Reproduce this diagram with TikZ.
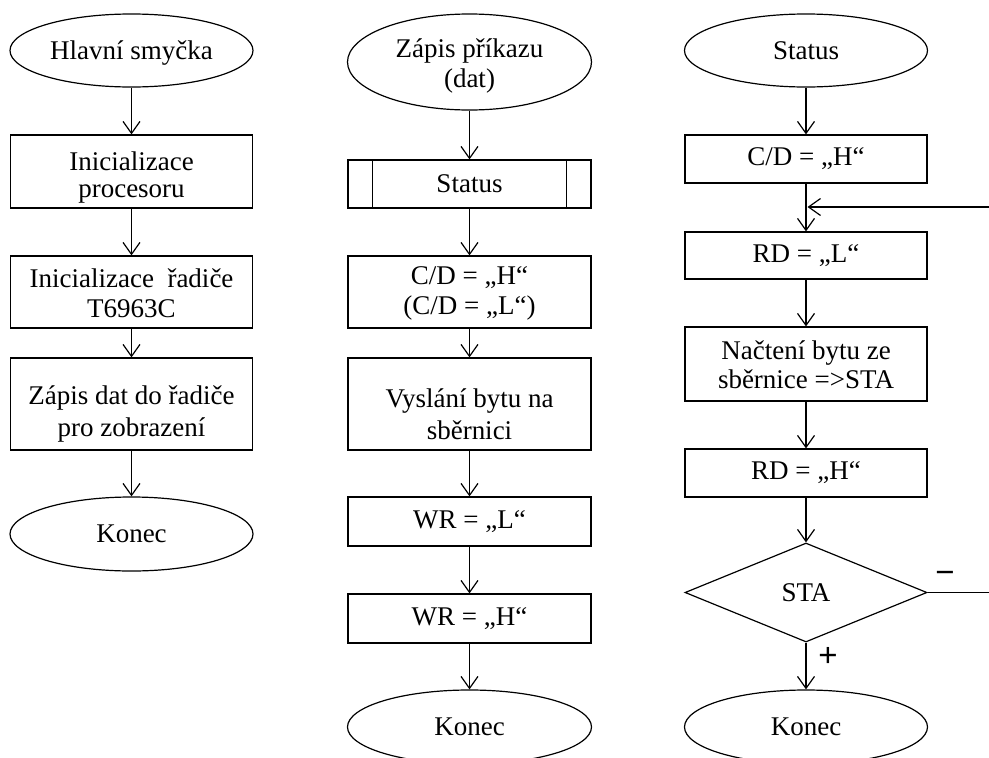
\documentclass[tikz,border=0pt]{standalone}
\usepackage{fontspec}
\setmainfont{Liberation Serif}
\newfontfamily\signfont{Liberation Sans}
\usetikzlibrary{shapes.geometric,arrows.meta}
\tikzset{
  every node/.style={font=\fontsize{27}{27}\selectfont, align=center},
  base/.style={draw, line width=1.2pt, inner sep=0pt},
  startstop/.style={base, ellipse, minimum width=243pt},
  procbox/.style={base, rectangle, minimum width=242pt},
  decision/.style={base, diamond, minimum width=242pt, minimum height=99pt},
  conn/.style={line width=1.2pt, -{Straight Barb[length=12pt,width=17pt]}},
  plainline/.style={line width=1.2pt},
  txt/.style 2 args={label={[yshift=#1]center:{#2}}},
  sign/.style={font=\signfont\fontsize{33}{33}\selectfont, inner sep=0pt}
}
\begin{document}
\begin{tikzpicture}[x=1pt,y=-1pt]
\useasboundingbox (0,0) rectangle (989,758);
\clip (0,0) rectangle (989,758);
% column 1
\node[startstop, minimum height=73pt, txt={-3pt}{Hlavní smyčka}] (e1) at (131.5,50.5) {};
\node[procbox, minimum height=73pt, txt={-6pt}{Inicializace\\procesoru}] (b1) at (131.5,171.5) {};
\node[procbox, minimum height=72pt, txt={-1pt}{Inicializace \ řadiče\\[3pt]T6963C}] (b2) at (131.5,292) {};
\node[procbox, minimum height=92pt, txt={-10pt}{Zápis dat do řadiče\\[5pt]pro zobrazení}] (b3) at (131.5,404) {};
\node[startstop, minimum height=74pt] (k1) at (131.5,534) {Konec};
\draw[conn] (e1) -- (b1);
\draw[conn] (b1) -- (b2);
\draw[conn] (b2) -- (b3);
\draw[conn] (b3) -- (k1);
% column 2
\node[startstop, minimum width=244pt, minimum height=96pt, txt={-4pt}{Zápis příkazu\\[3pt](dat)}] (e2) at (469.5,62) {};
\node[procbox, minimum width=243pt, minimum height=48pt] (s2) at (469.5,184) {Status};
\draw[plainline] ([xshift=25pt]s2.north west) -- ([xshift=25pt]s2.south west);
\draw[plainline] ([xshift=-25pt]s2.north east) -- ([xshift=-25pt]s2.south east);
\node[procbox, minimum width=243pt, minimum height=72pt, txt={-1pt}{C/D = „H“\\[3pt](C/D = „L“)}] (c2) at (469.5,292) {};
\node[procbox, minimum width=243pt, minimum height=92pt, txt={-10pt}{Vyslání bytu na\\[5pt]sběrnici}] (v2) at (469.5,404) {};
\node[procbox, minimum width=243pt, minimum height=49pt] (w1) at (469.5,521.5) {WR = „L“};
\node[procbox, minimum width=243pt, minimum height=49pt] (w2) at (469.5,618.5) {WR = „H“};
\node[startstop, minimum width=244pt, minimum height=74pt] (k2) at (469.5,727) {Konec};
\draw[conn] (e2) -- (s2);
\draw[conn] (s2) -- (c2);
\draw[conn] (c2) -- (v2);
\draw[conn] (v2) -- (w1);
\draw[conn] (w1) -- (w2);
\draw[conn] (w2) -- (k2);
% column 3
\node[startstop, minimum height=73pt] (e3) at (806,50.5) {Status};
\node[procbox, minimum height=48pt] (c3) at (806,159) {C/D = „H“};
\node[procbox, minimum height=47pt] (r1) at (806,255.5) {RD = „L“};
\node[procbox, minimum height=74pt, txt={-1pt}{Načtení bytu ze\\[2pt]sběrnice =>STA}] (n3) at (806,364) {};
\node[procbox, minimum height=48pt] (r2) at (806,473) {RD = „H“};
\node[decision] (d3) at (806,592.5) {STA};
\node[startstop, minimum height=74pt] (k3) at (806,727) {Konec};
\draw[conn] (e3) -- (c3);
\draw[conn] (c3) -- (r1);
\draw[conn] (r1) -- (n3);
\draw[conn] (n3) -- (r2);
\draw[conn] (r2) -- (d3);
\draw[conn] (d3) -- (k3);
\node[sign] (plus) at (828,657) {+};
\coordinate (fbr) at (990,592.5);
\coordinate (fbt) at (990,207);
\coordinate (fbj) at (807.5,207);
\draw[plainline] (d3.east) -- (fbr) -- (fbt);
\draw[conn] (fbt) -- (fbj);
\node[sign] (minus) at (945,577) {−};
\end{tikzpicture}
\end{document}
